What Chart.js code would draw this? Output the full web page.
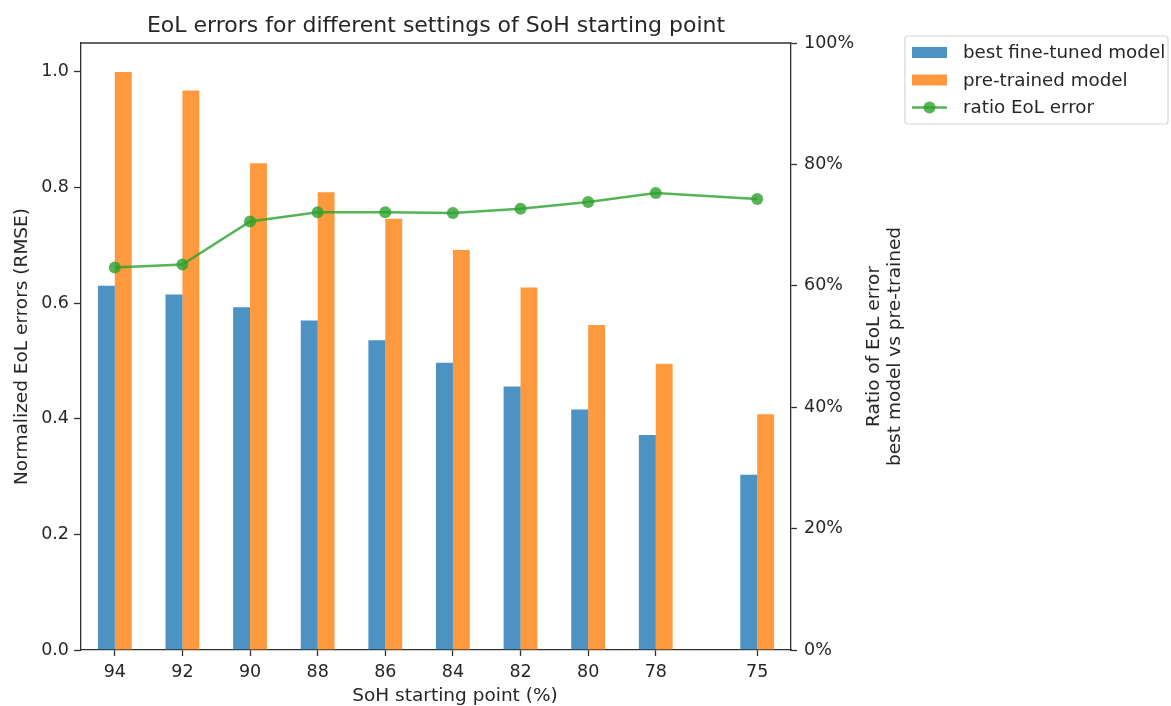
<!DOCTYPE html>
<html>
<head>
<meta charset="utf-8">
<title>EoL errors for different settings of SoH starting point</title>
<script src="https://cdn.jsdelivr.net/npm/chart.js@4.4.1/dist/chart.umd.min.js"></script>
<style>
  html, body { margin: 0; padding: 0; background: #ffffff; }
  #wrap { width: 1171px; height: 706px; }
</style>
</head>
<body>
<div id="wrap"><canvas id="chart" width="1171" height="706"></canvas></div>
<script>
// SoH starting points (%) on the x axis
const sohPoints = [94, 92, 90, 88, 86, 84, 82, 80, 78, 75];
// Normalized EoL RMSE, best fine-tuned model
const fineTunedErr = [0.630, 0.615, 0.593, 0.570, 0.536, 0.497, 0.456, 0.416, 0.372, 0.303];
// Normalized EoL RMSE, pre-trained model
const preTrainedErr = [1.000, 0.968, 0.842, 0.792, 0.746, 0.692, 0.627, 0.562, 0.495, 0.408];
// Ratio of EoL error, best model vs pre-trained (right axis, 0..1 = 0..100%)
const ratioErr = [0.630, 0.635, 0.706, 0.721, 0.721, 0.720, 0.727, 0.738, 0.753, 0.743];
// Tick labels
const leftTicks = [0, 0.2, 0.4, 0.6, 0.8, 1.0];
const rightTicks = [0, 0.2, 0.4, 0.6, 0.8, 1.0];

const FONT = '"DejaVu Sans", "Liberation Sans", sans-serif';
const INK = '#262626';
const SPINE = '#303030';
const C_BLUE = 'rgba(31,119,180,0.8)';
const C_ORANGE = 'rgba(255,127,14,0.8)';
const C_GREEN = 'rgba(44,160,44,0.8)';

const legendItems = [
  { label: 'best fine-tuned model', kind: 'patch', color: C_BLUE },
  { label: 'pre-trained model', kind: 'patch', color: C_ORANGE },
  { label: 'ratio EoL error', kind: 'line', color: C_GREEN }
];

// Title, axis labels, top spine and the legend box
const decorations = {
  id: 'decorations',
  afterDraw(chart) {
    const ctx = chart.ctx;
    const a = chart.chartArea;
    const cx = (a.left + a.right) / 2;
    const cy = (a.top + a.bottom) / 2;
    ctx.save();

    // top spine
    ctx.strokeStyle = SPINE;
    ctx.lineWidth = 1.3;
    ctx.beginPath();
    ctx.moveTo(a.left, a.top);
    ctx.lineTo(a.right, a.top);
    ctx.stroke();

    ctx.fillStyle = INK;
    // title
    ctx.font = '22px ' + FONT;
    ctx.textAlign = 'center';
    ctx.textBaseline = 'alphabetic';
    ctx.fillText('EoL errors for different settings of SoH starting point', cx, 32);

    // x axis label
    ctx.font = '18.5px ' + FONT;
    ctx.fillText('SoH starting point (%)', 455, 701);

    // left axis label
    ctx.save();
    ctx.translate(27, cy);
    ctx.rotate(-Math.PI / 2);
    ctx.fillText('Normalized EoL errors (RMSE)', 0, 0);
    ctx.restore();

    // right axis label (two lines)
    const rLines = ['Ratio of EoL error', 'best model vs pre-trained'];
    const rBase = [879, 900];
    rLines.forEach((t, i) => {
      ctx.save();
      ctx.translate(rBase[i], cy);
      ctx.rotate(-Math.PI / 2);
      ctx.fillText(t, 0, 0);
      ctx.restore();
    });

    // legend
    const lx = 905, ly = 36, lw = 263, lh = 88, r = 3;
    ctx.beginPath();
    ctx.moveTo(lx + r, ly);
    ctx.lineTo(lx + lw - r, ly);
    ctx.quadraticCurveTo(lx + lw, ly, lx + lw, ly + r);
    ctx.lineTo(lx + lw, ly + lh - r);
    ctx.quadraticCurveTo(lx + lw, ly + lh, lx + lw - r, ly + lh);
    ctx.lineTo(lx + r, ly + lh);
    ctx.quadraticCurveTo(lx, ly + lh, lx, ly + lh - r);
    ctx.lineTo(lx, ly + r);
    ctx.quadraticCurveTo(lx, ly, lx + r, ly);
    ctx.closePath();
    ctx.fillStyle = 'rgba(255,255,255,0.8)';
    ctx.fill();
    ctx.strokeStyle = '#d6d6d6';
    ctx.lineWidth = 1.2;
    ctx.stroke();

    const rowY = [52.5, 80, 107.5];
    ctx.textAlign = 'left';
    ctx.textBaseline = 'middle';
    ctx.font = '18.3px ' + FONT;
    legendItems.forEach((it, i) => {
      const y = rowY[i];
      if (it.kind === 'patch') {
        ctx.fillStyle = it.color;
        ctx.fillRect(912, y - 5.5, 35, 11);
      } else {
        ctx.strokeStyle = it.color;
        ctx.lineWidth = 2.5;
        ctx.beginPath();
        ctx.moveTo(912, y);
        ctx.lineTo(947, y);
        ctx.stroke();
        ctx.fillStyle = it.color;
        ctx.beginPath();
        ctx.arc(929.5, y, 6, 0, Math.PI * 2);
        ctx.fill();
      }
      ctx.fillStyle = INK;
      ctx.fillText(it.label, 963, y + 1);
    });

    ctx.restore();
  }
};

const tickFont = { family: FONT, size: 17.5 };

new Chart(document.getElementById('chart'), {
  type: 'bar',
  data: {
    datasets: [
      {
        label: 'best fine-tuned model',
        data: sohPoints.map((s, i) => ({ x: s, y: fineTunedErr[i] })),
        backgroundColor: C_BLUE,
        borderWidth: 0,
        yAxisID: 'y',
        order: 2
      },
      {
        label: 'pre-trained model',
        data: sohPoints.map((s, i) => ({ x: s, y: preTrainedErr[i] })),
        backgroundColor: C_ORANGE,
        borderWidth: 0,
        yAxisID: 'y',
        order: 2
      },
      {
        type: 'line',
        label: 'ratio EoL error',
        data: sohPoints.map((s, i) => ({ x: s, y: ratioErr[i] })),
        borderColor: C_GREEN,
        backgroundColor: C_GREEN,
        borderWidth: 2.5,
        pointRadius: 6,
        pointHoverRadius: 6,
        pointBorderWidth: 0,
        pointBackgroundColor: C_GREEN,
        tension: 0,
        fill: false,
        yAxisID: 'y2',
        order: 0
      }
    ]
  },
  options: {
    responsive: false,
    animation: false,
    events: [],
    categoryPercentage: 0.5,
    barPercentage: 1.0,
    layout: { padding: { top: 43, left: 0, right: 0, bottom: 0 } },
    plugins: {
      legend: { display: false },
      title: { display: false },
      tooltip: { enabled: false }
    },
    scales: {
      x: {
        type: 'linear',
        reverse: true,
        min: 74,
        max: 95,
        offset: false,
        afterBuildTicks(scale) { scale.ticks = sohPoints.map(v => ({ value: v })); },
        afterFit(scale) { scale.height = 56; },
        ticks: { font: tickFont, color: INK, padding: 6, maxRotation: 0, autoSkip: false,
                 callback: v => String(v) },
        grid: { display: true, offset: false, drawOnChartArea: false, drawTicks: true,
                tickLength: 6, color: SPINE, tickWidth: 1.3 },
        border: { display: true, color: SPINE, width: 1.3 },
        title: { display: false }
      },
      y: {
        type: 'linear',
        position: 'left',
        min: 0,
        max: 1.05,
        afterBuildTicks(scale) { scale.ticks = leftTicks.map(v => ({ value: v })); },
        afterFit(scale) { scale.width = 81; },
        ticks: { font: tickFont, color: INK, padding: 5, callback: v => Number(v).toFixed(1) },
        grid: { display: true, offset: false, drawOnChartArea: false, drawTicks: true,
                tickLength: 7, color: SPINE, tickWidth: 1.3 },
        border: { display: true, color: SPINE, width: 1.3 },
        title: { display: false }
      },
      y2: {
        type: 'linear',
        position: 'right',
        min: 0,
        max: 1.0,
        afterBuildTicks(scale) { scale.ticks = rightTicks.map(v => ({ value: v })); },
        afterFit(scale) { scale.width = 380; },
        ticks: { font: tickFont, color: INK, padding: 7,
                 callback: v => Math.round(v * 100) + '%' },
        grid: { display: true, offset: false, drawOnChartArea: false, drawTicks: true,
                tickLength: 6, color: SPINE, tickWidth: 1.3 },
        border: { display: true, color: SPINE, width: 1.3 },
        title: { display: false }
      }
    }
  },
  plugins: [decorations]
});
</script>
</body>
</html>
